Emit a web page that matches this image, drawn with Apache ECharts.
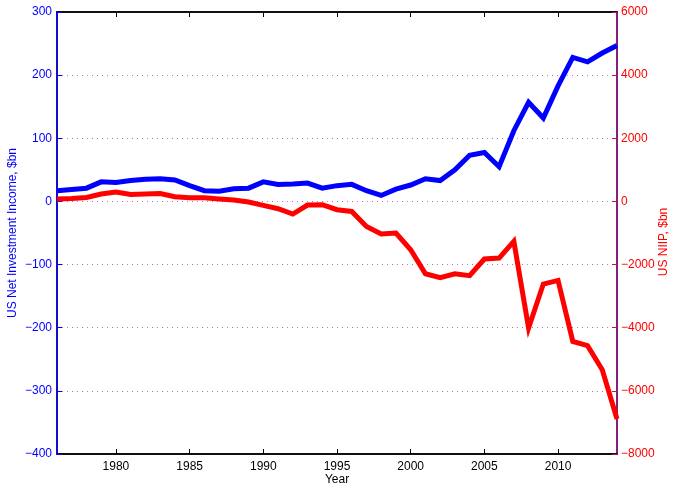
<!DOCTYPE html>
<html>
<head>
<meta charset="utf-8">
<script src="https://cdn.jsdelivr.net/npm/echarts@6/dist/echarts.min.js"></script>
<style>html,body{margin:0;padding:0;background:#fff}#c{width:673px;height:485px}</style>
</head>
<body>
<div id="c"></div>
<script>
var years = [1976,1977,1978,1979,1980,1981,1982,1983,1984,1985,1986,1987,1988,1989,1990,1991,1992,1993,1994,1995,1996,1997,1998,1999,2000,2001,2002,2003,2004,2005,2006,2007,2008,2009,2010,2011,2012,2013,2014];
var netIncome = [17,19,21,31,30,33,35,36,34,25,17,16,20,21,31,27,27.5,29,21,25,27,17,9.5,19.5,26,36,33,50,73,77.5,55,112,157,132,183,228,221,235,247];
var niip = [76,95,127,234,298,222,234,253,149,117,117,76,44,-20,-127,-231,-399,-114,-104,-263,-316,-792,-1033,-1001,-1530,-2290,-2416,-2290,-2353,-1825,-1793,-1267,-4010,-2617,-2502,-4434,-4570,-5330,-6892];
var xTicks = [1980,1985,1990,1995,2000,2005,2010];

var font = 'Liberation Sans, Arial, Helvetica, sans-serif';
function minus(v){ return String(v).replace('-', '\u2212'); }
function plain(v){ return String(v); }
function pairs(vals){ return years.map(function(y,i){ return [y, vals[i]]; }); }

var chart = echarts.init(document.getElementById('c'), null, {renderer:'canvas'});
chart.setOption({
  animation: false,
  backgroundColor: '#fff',
  textStyle: {fontFamily: font},
  grid: {left: 57, right: 56, top: 12, bottom: 31, containLabel: false, outerBoundsMode: 'none',
         show: true, borderColor: '#000', borderWidth: 1.5, backgroundColor: 'transparent'},
  xAxis: [{
    type: 'value', min: 1976, max: 2014, position: 'bottom',
    name: 'Year', nameLocation: 'middle', nameGap: 20, nameMoveOverlap: false,
    nameTextStyle: {color: '#000', fontSize: 12, fontFamily: font},
    axisLine: {show: true, onZero: false, lineStyle: {color: '#000', width: 1.5}},
    axisTick: {show: true, inside: true, length: 5, customValues: xTicks, lineStyle: {color: '#000'}},
    axisLabel: {show: true, color: '#000', fontSize: 12, fontFamily: font, margin: 7, customValues: xTicks, formatter: plain},
    splitLine: {show: false}
  },{
    type: 'value', min: 1976, max: 2014, position: 'top',
    axisLine: {show: true, onZero: false, lineStyle: {color: '#000', width: 1.5}},
    axisTick: {show: true, inside: true, length: 5, customValues: xTicks, lineStyle: {color: '#000'}},
    axisLabel: {show: false, customValues: xTicks},
    splitLine: {show: false}
  }],
  yAxis: [{
    type: 'value', min: -400, max: 300, interval: 100, position: 'left',
    name: 'US Net Investment Income, $bn', nameLocation: 'middle', nameGap: 38, nameRotate: 90, nameMoveOverlap: false,
    nameTextStyle: {color: '#0000ff', fontSize: 12, fontFamily: font},
    axisLine: {show: true, onZero: false, lineStyle: {color: '#0000ff', width: 1.5}},
    axisTick: {show: true, inside: true, length: 5, lineStyle: {color: '#0000ff'}},
    axisLabel: {color: '#0000ff', fontSize: 12, fontFamily: font, margin: 5, formatter: minus},
    splitLine: {show: true, lineStyle: {color: 'rgba(110,110,255,0.8)', width: 1, type: [1, 9], dashOffset: 0}}
  },{
    type: 'value', min: -8000, max: 6000, interval: 2000, position: 'right',
    name: 'US NIIP, $bn', nameLocation: 'middle', nameGap: 41, nameRotate: 90, nameMoveOverlap: false,
    nameTextStyle: {color: '#ff0000', fontSize: 12, fontFamily: font, padding: [0, 0, 0, -18]},
    axisLine: {show: true, onZero: false, lineStyle: {color: '#9b1a8c', width: 1.5}},
    axisTick: {show: true, inside: true, length: 5, lineStyle: {color: '#d0103a'}},
    axisLabel: {color: '#ff0000', fontSize: 12, fontFamily: font, margin: 4, formatter: minus},
    splitLine: {show: true, lineStyle: {color: 'rgba(230,40,100,0.8)', width: 1, type: [1, 9], dashOffset: 5}}
  }],
  series: [{
    type: 'line', name: 'Net Investment Income', xAxisIndex: 0, yAxisIndex: 0,
    data: pairs(netIncome), showSymbol: false, symbol: 'none',
    lineStyle: {color: '#0000ff', width: 5, join: 'miter'}, z: 3
  },{
    type: 'line', name: 'NIIP', xAxisIndex: 0, yAxisIndex: 1,
    data: pairs(niip), showSymbol: false, symbol: 'none',
    lineStyle: {color: '#ff0000', width: 5, join: 'miter'}, z: 3
  },{
    type: 'line', name: 'frame', xAxisIndex: 1, yAxisIndex: 0,
    data: pairs(netIncome), showSymbol: false, symbol: 'none', silent: true,
    lineStyle: {opacity: 0, width: 0}
  }]
});
</script>
</body>
</html>
